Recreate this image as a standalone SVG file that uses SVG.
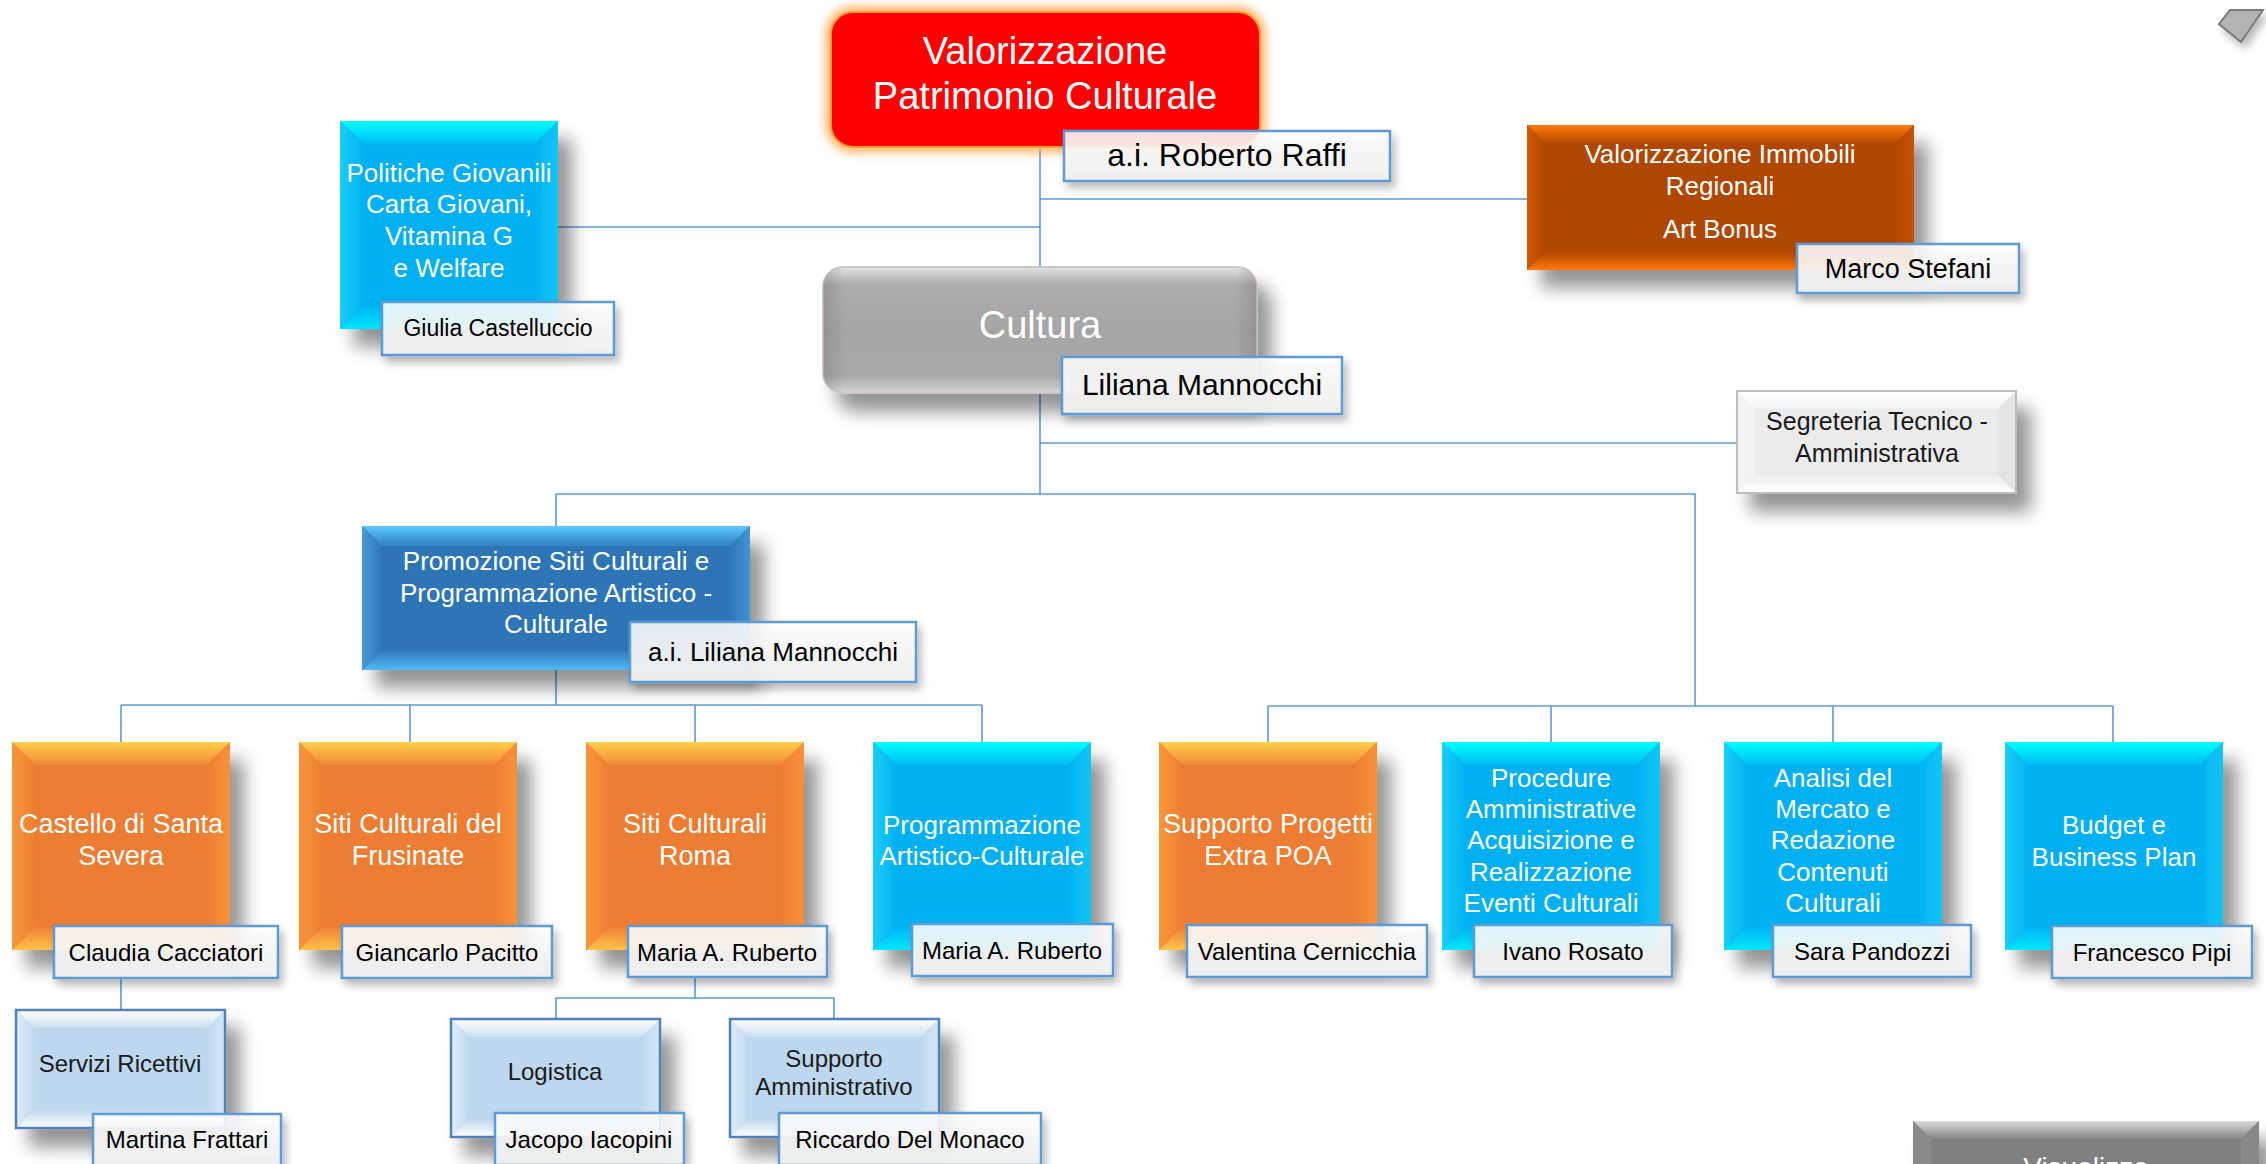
<svg xmlns="http://www.w3.org/2000/svg" xmlns:xlink="http://www.w3.org/1999/xlink" width="2266" height="1164" viewBox="0 0 2266 1164">
<style>
.t{font-family:"Liberation Sans",Arial,sans-serif;text-anchor:middle}
.w{fill:#ffffff}
.k{fill:#000000}
.d{fill:#1a1a1a}
.c{stroke:#5B9BD5;stroke-width:1.6;fill:none}
.nb{fill:url(#gName);stroke:#5B9BD5;stroke-width:2.5}
</style>
<defs>
<filter id="sh" x="-20%" y="-20%" width="160%" height="170%">
<feGaussianBlur in="SourceAlpha" stdDeviation="9"/>
<feOffset dx="14" dy="18" result="o"/>
<feComponentTransfer><feFuncA type="linear" slope="0.42"/></feComponentTransfer>
<feMerge><feMergeNode/><feMergeNode in="SourceGraphic"/></feMerge>
</filter>
<filter id="shs" x="-20%" y="-30%" width="150%" height="180%">
<feGaussianBlur in="SourceAlpha" stdDeviation="4"/>
<feOffset dx="4" dy="6"/>
<feComponentTransfer><feFuncA type="linear" slope="0.28"/></feComponentTransfer>
<feMerge><feMergeNode/><feMergeNode in="SourceGraphic"/></feMerge>
</filter>
<filter id="blur" x="-10%" y="-20%" width="120%" height="140%"><feGaussianBlur stdDeviation="4"/></filter>
<linearGradient id="gName" x1="0" y1="0" x2="0" y2="1"><stop offset="0" stop-color="#ffffff" stop-opacity="0.86"/><stop offset="1" stop-color="#efefef" stop-opacity="0.96"/></linearGradient>
<linearGradient id="oT" x1="0" y1="0" x2="0" y2="1"><stop offset="0" stop-color="#FFD24D"/><stop offset="1" stop-color="#F08737"/></linearGradient>
<linearGradient id="oB" x1="0" y1="0" x2="0" y2="1"><stop offset="0" stop-color="#EF8134"/><stop offset="1" stop-color="#FFC34A"/></linearGradient>
<linearGradient id="oL" x1="0" y1="0" x2="1" y2="0"><stop offset="0" stop-color="#F8963B"/><stop offset="1" stop-color="#EE7F32"/></linearGradient>
<linearGradient id="oR" x1="0" y1="0" x2="1" y2="0"><stop offset="0" stop-color="#EE7F32"/><stop offset="1" stop-color="#F7913A"/></linearGradient>
<linearGradient id="cT" x1="0" y1="0" x2="0" y2="1"><stop offset="0" stop-color="#00FFFF"/><stop offset="1" stop-color="#00BCF3"/></linearGradient>
<linearGradient id="cB" x1="0" y1="0" x2="0" y2="1"><stop offset="0" stop-color="#00B3F1"/><stop offset="1" stop-color="#00E8FF"/></linearGradient>
<linearGradient id="cL" x1="0" y1="0" x2="1" y2="0"><stop offset="0" stop-color="#1ACEFA"/><stop offset="1" stop-color="#02B2F0"/></linearGradient>
<linearGradient id="cR" x1="0" y1="0" x2="1" y2="0"><stop offset="0" stop-color="#02B2F0"/><stop offset="1" stop-color="#12C6F8"/></linearGradient>
<linearGradient id="bT" x1="0" y1="0" x2="0" y2="1"><stop offset="0" stop-color="#5CC9FF"/><stop offset="1" stop-color="#3280BE"/></linearGradient>
<linearGradient id="bB" x1="0" y1="0" x2="0" y2="1"><stop offset="0" stop-color="#3078B8"/><stop offset="1" stop-color="#52B8F5"/></linearGradient>
<linearGradient id="bL" x1="0" y1="0" x2="1" y2="0"><stop offset="0" stop-color="#4A9AD8"/><stop offset="1" stop-color="#2F77B8"/></linearGradient>
<linearGradient id="bR" x1="0" y1="0" x2="1" y2="0"><stop offset="0" stop-color="#2F77B8"/><stop offset="1" stop-color="#4494D4"/></linearGradient>
<linearGradient id="brT" x1="0" y1="0" x2="0" y2="1"><stop offset="0" stop-color="#FF7B0A"/><stop offset="1" stop-color="#B84A00"/></linearGradient>
<linearGradient id="brB" x1="0" y1="0" x2="0" y2="1"><stop offset="0" stop-color="#B24700"/><stop offset="1" stop-color="#FF7A0A"/></linearGradient>
<linearGradient id="brL" x1="0" y1="0" x2="1" y2="0"><stop offset="0" stop-color="#D25A00"/><stop offset="1" stop-color="#B14700"/></linearGradient>
<linearGradient id="brR" x1="0" y1="0" x2="1" y2="0"><stop offset="0" stop-color="#B14700"/><stop offset="1" stop-color="#C85200"/></linearGradient>
<linearGradient id="sT" x1="0" y1="0" x2="0" y2="1"><stop offset="0" stop-color="#FFFFFF"/><stop offset="1" stop-color="#F2F2F2"/></linearGradient>
<linearGradient id="sB" x1="0" y1="0" x2="0" y2="1"><stop offset="0" stop-color="#EDEDED"/><stop offset="1" stop-color="#FFFFFF"/></linearGradient>
<linearGradient id="lT" x1="0" y1="0" x2="0" y2="1"><stop offset="0" stop-color="#FFFFFF"/><stop offset="1" stop-color="#CCE0F2"/></linearGradient>
<linearGradient id="lB" x1="0" y1="0" x2="0" y2="1"><stop offset="0" stop-color="#C0D9EF"/><stop offset="1" stop-color="#FFFFFF"/></linearGradient>
<linearGradient id="lL" x1="0" y1="0" x2="1" y2="0"><stop offset="0" stop-color="#E2EEF9"/><stop offset="1" stop-color="#BFD8EE"/></linearGradient>
<linearGradient id="lR" x1="0" y1="0" x2="1" y2="0"><stop offset="0" stop-color="#BFD8EE"/><stop offset="1" stop-color="#D6E7F6"/></linearGradient>
<linearGradient id="gT" x1="0" y1="0" x2="0" y2="1"><stop offset="0" stop-color="#DADADA"/><stop offset="1" stop-color="#858585"/></linearGradient>
<linearGradient id="cultV" x1="0" y1="0" x2="0" y2="1"><stop offset="0" stop-color="#E2E2E2"/><stop offset="0.14" stop-color="#ACACAC"/><stop offset="0.5" stop-color="#A6A6A6"/><stop offset="0.86" stop-color="#A8A8A8"/><stop offset="1" stop-color="#D6D6D6"/></linearGradient>
<linearGradient id="cultH" x1="0" y1="0" x2="1" y2="0"><stop offset="0" stop-color="#000" stop-opacity="0.12"/><stop offset="0.05" stop-color="#000" stop-opacity="0"/><stop offset="0.95" stop-color="#000" stop-opacity="0"/><stop offset="1" stop-color="#000" stop-opacity="0.12"/></linearGradient>
<g id="L3o">
<rect x="0" y="0" width="218" height="208" fill="#ED7D31"/>
<polygon points="0,0 218,0 195,23 23,23" fill="url(#oT)"/>
<polygon points="0,208 218,208 195,185 23,185" fill="url(#oB)"/>
<polygon points="0,0 23,23 23,185 0,208" fill="url(#oL)"/>
<polygon points="218,0 195,23 195,185 218,208" fill="url(#oR)"/>
</g>
<g id="L3c">
<rect x="0" y="0" width="218" height="208" fill="#00B0F0"/>
<polygon points="0,0 218,0 195,23 23,23" fill="url(#cT)"/>
<polygon points="0,208 218,208 195,185 23,185" fill="url(#cB)"/>
<polygon points="0,0 23,23 23,185 0,208" fill="url(#cL)"/>
<polygon points="218,0 195,23 195,185 218,208" fill="url(#cR)"/>
</g>
<g id="L4">
<rect x="0" y="0" width="209" height="118" fill="#BDD7EE"/>
<polygon points="0,0 209,0 191,18 18,18" fill="url(#lT)"/>
<polygon points="0,118 209,118 191,100 18,100" fill="url(#lB)"/>
<polygon points="0,0 18,18 18,100 0,118" fill="url(#lL)"/>
<polygon points="209,0 191,18 191,100 209,118" fill="url(#lR)"/>
<rect x="0" y="0" width="209" height="118" fill="none" stroke="#4F81BD" stroke-width="2.5"/>
</g>
</defs>

<rect x="0" y="0" width="2266" height="1164" fill="#ffffff"/>

<g id="connectors">
<line class="c" x1="1040" y1="149" x2="1040" y2="267"/>
<line class="c" x1="1040" y1="392" x2="1040" y2="494"/>
<line class="c" x1="558" y1="227" x2="1040" y2="227"/>
<line class="c" x1="1040" y1="199" x2="1527" y2="199"/>
<line class="c" x1="1040" y1="443" x2="1737" y2="443"/>
<polyline class="c" points="556,526 556,494 1695,494 1695,706"/>
<line class="c" x1="556" y1="670" x2="556" y2="705"/>
<line class="c" x1="121" y1="705" x2="982" y2="705"/>
<line class="c" x1="121" y1="705" x2="121" y2="742"/>
<line class="c" x1="410" y1="705" x2="410" y2="742"/>
<line class="c" x1="695" y1="705" x2="695" y2="742"/>
<line class="c" x1="982" y1="705" x2="982" y2="742"/>
<line class="c" x1="1268" y1="706" x2="2113" y2="706"/>
<line class="c" x1="1268" y1="706" x2="1268" y2="742"/>
<line class="c" x1="1551" y1="706" x2="1551" y2="742"/>
<line class="c" x1="1833" y1="706" x2="1833" y2="742"/>
<line class="c" x1="2113" y1="706" x2="2113" y2="742"/>
<line class="c" x1="121" y1="978" x2="121" y2="1010"/>
<polyline class="c" points="695,977 695,998 556,998 556,1019"/>
<polyline class="c" points="695,998 834,998 834,1019"/>
</g>

<g id="n-valorizzazione">
<rect x="831" y="12" width="429" height="135" rx="22" fill="none" stroke="#FFA040" stroke-width="12" stroke-opacity="0.75" filter="url(#blur)"/>
<rect x="831" y="12" width="429" height="135" rx="22" fill="#FF0000" stroke="#FF9A30" stroke-width="2"/>
<text class="t w" x="1045" y="64" font-size="38">Valorizzazione</text>
<text class="t w" x="1045" y="109" font-size="38">Patrimonio Culturale</text>
<g filter="url(#shs)"><rect class="nb" x="1064" y="131" width="326" height="50"/></g>
<text class="t k" x="1227" y="166" font-size="32">a.i. Roberto Raffi</text>
</g>

<g id="n-politiche">
<use href="#L3c" x="340" y="121" filter="url(#sh)"/>
<text class="t w" x="449" y="182" font-size="26">Politiche Giovanili</text>
<text class="t w" x="449" y="213" font-size="26">Carta Giovani,</text>
<text class="t w" x="449" y="245" font-size="26">Vitamina G</text>
<text class="t w" x="449" y="277" font-size="26">e Welfare</text>
<g filter="url(#shs)"><rect class="nb" x="382" y="302" width="232" height="53"/></g>
<text class="t k" x="498" y="336" font-size="23">Giulia Castelluccio</text>
</g>

<g id="n-immobili">
<g filter="url(#sh)">
<rect x="1527" y="125" width="387" height="145" fill="#B04600"/>
<polygon points="1527,125 1914,125 1896,143 1545,143" fill="url(#brT)"/>
<polygon points="1527,270 1914,270 1896,252 1545,252" fill="url(#brB)"/>
<polygon points="1527,125 1545,143 1545,252 1527,270" fill="url(#brL)"/>
<polygon points="1914,125 1896,143 1896,252 1914,270" fill="url(#brR)"/>
</g>
<text class="t w" x="1720" y="163" font-size="26">Valorizzazione Immobili</text>
<text class="t w" x="1720" y="195" font-size="26">Regionali</text>
<text class="t w" x="1720" y="238" font-size="26">Art Bonus</text>
<g filter="url(#shs)"><rect class="nb" x="1797" y="244" width="222" height="49"/></g>
<text class="t k" x="1908" y="278" font-size="27">Marco Stefani</text>
</g>

<g id="n-cultura">
<g filter="url(#sh)">
<rect x="823" y="267" width="434" height="126" rx="20" fill="url(#cultV)" stroke="#CFC6C6" stroke-width="2"/>
<rect x="823" y="267" width="434" height="126" rx="20" fill="url(#cultH)"/>
</g>
<text class="t w" x="1040" y="338" font-size="38">Cultura</text>
<g filter="url(#shs)"><rect class="nb" x="1062" y="357" width="280" height="57"/></g>
<text class="t k" x="1202" y="395" font-size="30">Liliana Mannocchi</text>
</g>

<g id="n-segreteria">
<g filter="url(#sh)">
<rect x="1737" y="391" width="279" height="102" fill="#EBEBEB"/>
<polygon points="1737,391 2016,391 1998,409 1755,409" fill="url(#sT)"/>
<polygon points="1737,493 2016,493 1998,475 1755,475" fill="url(#sB)"/>
<polygon points="1737,391 1755,409 1755,475 1737,493" fill="#F3F3F3"/>
<polygon points="2016,391 1998,409 1998,475 2016,493" fill="#E4E4E4"/>
<rect x="1737" y="391" width="279" height="102" fill="none" stroke="#BDBDBD" stroke-width="2"/>
</g>
<text class="t d" x="1877" y="430" font-size="25">Segreteria Tecnico -</text>
<text class="t d" x="1877" y="462" font-size="25">Amministrativa</text>
</g>

<g id="n-promozione">
<g filter="url(#sh)">
<rect x="362" y="526" width="388" height="144" fill="#2E75B6"/>
<polygon points="362,526 750,526 730,546 382,546" fill="url(#bT)"/>
<polygon points="362,670 750,670 730,650 382,650" fill="url(#bB)"/>
<polygon points="362,526 382,546 382,650 362,670" fill="url(#bL)"/>
<polygon points="750,526 730,546 730,650 750,670" fill="url(#bR)"/>
</g>
<text class="t w" x="556" y="570" font-size="26">Promozione Siti Culturali e</text>
<text class="t w" x="556" y="602" font-size="26">Programmazione Artistico -</text>
<text class="t w" x="556" y="633" font-size="26">Culturale</text>
<g filter="url(#shs)"><rect class="nb" x="630" y="622" width="286" height="60"/></g>
<text class="t k" x="773" y="661" font-size="26">a.i. Liliana Mannocchi</text>
</g>

<g id="n-castello">
<use href="#L3o" x="12" y="742" filter="url(#sh)"/>
<text class="t w" x="121" y="833" font-size="27">Castello di Santa</text>
<text class="t w" x="121" y="865" font-size="27">Severa</text>
<g filter="url(#shs)"><rect class="nb" x="54" y="926" width="224" height="52"/></g>
<text class="t k" x="166" y="961" font-size="24">Claudia Cacciatori</text>
</g>

<g id="n-frusinate">
<use href="#L3o" x="299" y="742" filter="url(#sh)"/>
<text class="t w" x="408" y="833" font-size="27">Siti Culturali del</text>
<text class="t w" x="408" y="865" font-size="27">Frusinate</text>
<g filter="url(#shs)"><rect class="nb" x="342" y="926" width="210" height="52"/></g>
<text class="t k" x="447" y="961" font-size="24">Giancarlo Pacitto</text>
</g>

<g id="n-roma">
<use href="#L3o" x="586" y="742" filter="url(#sh)"/>
<text class="t w" x="695" y="833" font-size="27">Siti Culturali</text>
<text class="t w" x="695" y="865" font-size="27">Roma</text>
<g filter="url(#shs)"><rect class="nb" x="628" y="926" width="199" height="51"/></g>
<text class="t k" x="727" y="961" font-size="24">Maria A. Ruberto</text>
</g>

<g id="n-programmazione">
<use href="#L3c" x="873" y="742" filter="url(#sh)"/>
<text class="t w" x="982" y="834" font-size="26">Programmazione</text>
<text class="t w" x="982" y="865" font-size="26">Artistico-Culturale</text>
<g filter="url(#shs)"><rect class="nb" x="912" y="924" width="201" height="52"/></g>
<text class="t k" x="1012" y="959" font-size="24">Maria A. Ruberto</text>
</g>

<g id="n-supporto-progetti">
<use href="#L3o" x="1159" y="742" filter="url(#sh)"/>
<text class="t w" x="1268" y="833" font-size="27">Supporto Progetti</text>
<text class="t w" x="1268" y="865" font-size="27">Extra POA</text>
<g filter="url(#shs)"><rect class="nb" x="1187" y="925" width="240" height="52"/></g>
<text class="t k" x="1307" y="960" font-size="24">Valentina Cernicchia</text>
</g>

<g id="n-procedure">
<use href="#L3c" x="1442" y="742" filter="url(#sh)"/>
<text class="t w" x="1551" y="787" font-size="26">Procedure</text>
<text class="t w" x="1551" y="818" font-size="26">Amministrative</text>
<text class="t w" x="1551" y="849" font-size="26">Acquisizione e</text>
<text class="t w" x="1551" y="881" font-size="26">Realizzazione</text>
<text class="t w" x="1551" y="912" font-size="26">Eventi Culturali</text>
<g filter="url(#shs)"><rect class="nb" x="1474" y="925" width="198" height="52"/></g>
<text class="t k" x="1573" y="960" font-size="24">Ivano Rosato</text>
</g>

<g id="n-analisi">
<use href="#L3c" x="1724" y="742" filter="url(#sh)"/>
<text class="t w" x="1833" y="787" font-size="26">Analisi del</text>
<text class="t w" x="1833" y="818" font-size="26">Mercato e</text>
<text class="t w" x="1833" y="849" font-size="26">Redazione</text>
<text class="t w" x="1833" y="881" font-size="26">Contenuti</text>
<text class="t w" x="1833" y="912" font-size="26">Culturali</text>
<g filter="url(#shs)"><rect class="nb" x="1773" y="925" width="198" height="52"/></g>
<text class="t k" x="1872" y="960" font-size="24">Sara Pandozzi</text>
</g>

<g id="n-budget">
<use href="#L3c" x="2005" y="742" filter="url(#sh)"/>
<text class="t w" x="2114" y="834" font-size="26">Budget e</text>
<text class="t w" x="2114" y="866" font-size="26">Business Plan</text>
<g filter="url(#shs)"><rect class="nb" x="2052" y="926" width="200" height="52"/></g>
<text class="t k" x="2152" y="961" font-size="24">Francesco Pipi</text>
</g>

<g id="n-servizi">
<use href="#L4" x="16" y="1010" filter="url(#sh)"/>
<text class="t d" x="120" y="1072" font-size="24">Servizi Ricettivi</text>
<g filter="url(#shs)"><rect class="nb" x="93" y="1114" width="188" height="52"/></g>
<text class="t k" x="187" y="1148" font-size="24">Martina Frattari</text>
</g>

<g id="n-logistica">
<use href="#L4" x="451" y="1019" filter="url(#sh)"/>
<text class="t d" x="555" y="1080" font-size="24">Logistica</text>
<g filter="url(#shs)"><rect class="nb" x="495" y="1113" width="189" height="52"/></g>
<text class="t k" x="589" y="1148" font-size="24">Jacopo Iacopini</text>
</g>

<g id="n-supporto-amm">
<use href="#L4" x="730" y="1019" filter="url(#sh)"/>
<text class="t d" x="834" y="1067" font-size="24">Supporto</text>
<text class="t d" x="834" y="1095" font-size="24">Amministrativo</text>
<g filter="url(#shs)"><rect class="nb" x="779" y="1113" width="262" height="52"/></g>
<text class="t k" x="910" y="1148" font-size="24">Riccardo Del Monaco</text>
</g>

<g id="n-visualizza">
<g filter="url(#sh)">
<rect x="1913" y="1121" width="346" height="80" fill="#808080"/>
<polygon points="1913,1121 2259,1121 2241,1139 1931,1139" fill="url(#gT)"/>
<polygon points="1913,1121 1931,1139 1931,1201 1913,1201" fill="#8A8A8A"/>
<polygon points="2259,1121 2241,1139 2241,1201 2259,1201" fill="#888888"/>
</g>
<text class="t w" x="2086" y="1177" font-size="28">Visualizza</text>
</g>

<g id="n-icon">
<polygon points="2219,24 2230,10 2263,10 2241,42" fill="#B3B3B3" stroke="#7A7A7A" stroke-width="2" filter="url(#shs)"/>
</g>
</svg>
